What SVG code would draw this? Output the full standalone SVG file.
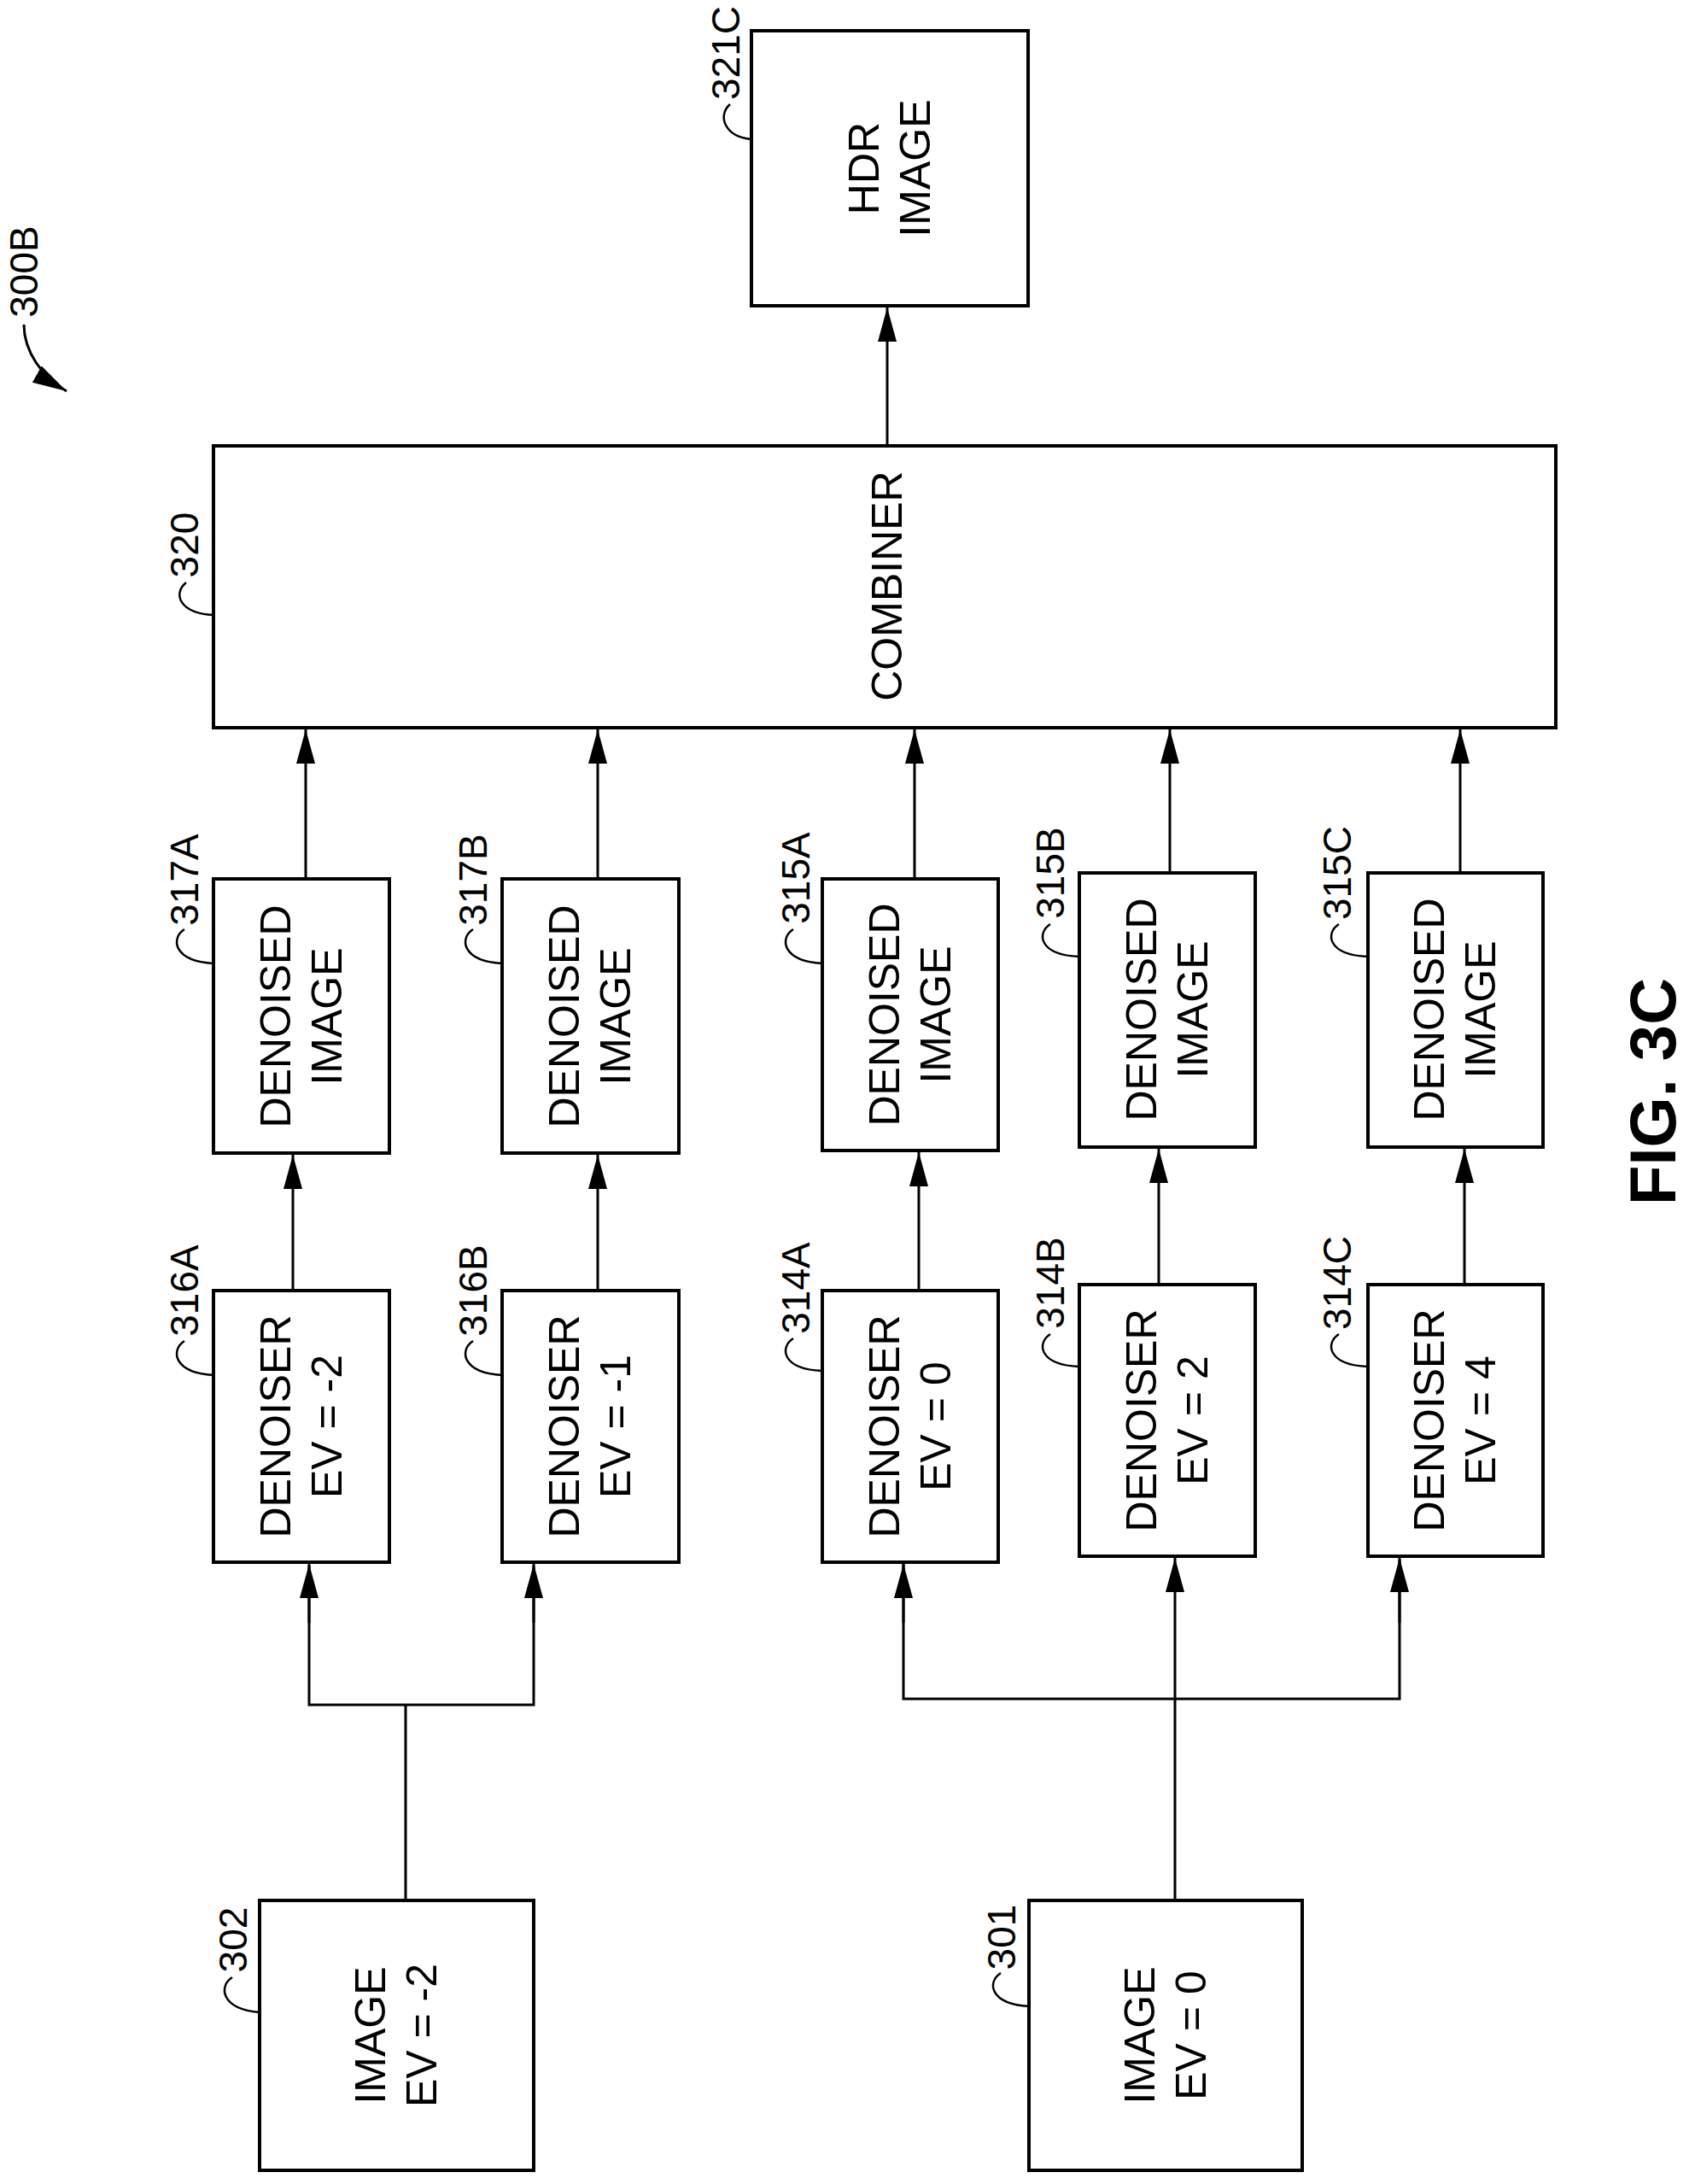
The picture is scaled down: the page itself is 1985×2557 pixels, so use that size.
<svg xmlns="http://www.w3.org/2000/svg" width="1985" height="2557" viewBox="0 0 1985 2557">
<style>
rect{fill:#fff;stroke:#000;stroke-width:4}
.c path,.c line{stroke:#000;stroke-width:3;fill:none}
.ld{stroke:#000;stroke-width:2.5;fill:none}
text{font-family:"Liberation Sans",Arial,sans-serif;font-size:50px;fill:#000;text-anchor:middle}
.lb{font-size:46px}
</style>
<defs>
<marker id="b" markerWidth="40" markerHeight="24" refX="40" refY="12" orient="auto" markerUnits="userSpaceOnUse"><path d="M0 1L40 12L0 23z" fill="#000"/></marker></defs>
<g class="c">
<line x1="1039" y1="521" x2="1039" y2="360" marker-end="url(#b)"/>
<line x1="358" y1="1029" x2="358" y2="854" marker-end="url(#b)"/>
<line x1="700" y1="1029" x2="700" y2="854" marker-end="url(#b)"/>
<line x1="1071" y1="1029" x2="1071" y2="854" marker-end="url(#b)"/>
<line x1="1370" y1="1022" x2="1370" y2="854" marker-end="url(#b)"/>
<line x1="1710" y1="1022" x2="1710" y2="854" marker-end="url(#b)"/>
<line x1="343" y1="1511" x2="343" y2="1352" marker-end="url(#b)"/>
<line x1="700" y1="1511" x2="700" y2="1352" marker-end="url(#b)"/>
<line x1="1076" y1="1511" x2="1076" y2="1349" marker-end="url(#b)"/>
<line x1="1357" y1="1504" x2="1357" y2="1345" marker-end="url(#b)"/>
<line x1="1715" y1="1504" x2="1715" y2="1345" marker-end="url(#b)"/>
<path d="M475 2225V1996M362 1833V1996H625V1833"/>
<line x1="362" y1="1900" x2="362" y2="1831" marker-end="url(#b)"/>
<line x1="625" y1="1900" x2="625" y2="1831" marker-end="url(#b)"/>
<path d="M1058 1826V1989H1639V1826"/>
<line x1="1058" y1="1900" x2="1058" y2="1831" marker-end="url(#b)"/>
<line x1="1639" y1="1900" x2="1639" y2="1824" marker-end="url(#b)"/>
<line x1="1376" y1="2225" x2="1376" y2="1824" marker-end="url(#b)"/>
<path d="M28 380C28 412 50 442 78 458" marker-end="url(#b)"/>
</g>
<g id="n321C"><rect x="880" y="36" width="324" height="322"/><text transform="translate(1042 197) rotate(-90)"><tspan x="0" y="-13">HDR</tspan><tspan x="0" y="47">IMAGE</tspan></text><text class="lb" transform="translate(866 62) rotate(-90)">321C</text><path class="ld" d="M855 122C840 135 848 160 880 163"/></g>
<g id="n320"><rect x="250" y="522" width="1572" height="330"/><text transform="translate(1056 686) rotate(-90)">COMBINER</text><text class="lb" transform="translate(232 638) rotate(-90)">320</text><path class="ld" d="M218 682C202 695 210 718 250 720"/></g>
<text class="lb" transform="translate(44 318) rotate(-90)">300B</text>
<g id="n317A"><rect x="250" y="1029" width="206" height="321"/><text transform="translate(353 1190) rotate(-90)"><tspan x="0" y="-13">DENOISED</tspan><tspan x="0" y="47">IMAGE</tspan></text><text class="lb" transform="translate(232 1030) rotate(-90)">317A</text><path class="ld" d="M216 1088C200 1098 202 1125 250 1128"/></g>
<g id="n317B"><rect x="588" y="1029" width="207" height="321"/><text transform="translate(691 1190) rotate(-90)"><tspan x="0" y="-13">DENOISED</tspan><tspan x="0" y="47">IMAGE</tspan></text><text class="lb" transform="translate(570 1030) rotate(-90)">317B</text><path class="ld" d="M554 1088C538 1098 540 1125 588 1128"/></g>
<g id="n315A"><rect x="963" y="1029" width="206" height="318"/><text transform="translate(1066 1188) rotate(-90)"><tspan x="0" y="-13">DENOISED</tspan><tspan x="0" y="47">IMAGE</tspan></text><text class="lb" transform="translate(948 1028) rotate(-90)">315A</text><path class="ld" d="M929 1088C913 1098 915 1125 963 1128"/></g>
<g id="n315B"><rect x="1264" y="1022" width="206" height="321"/><text transform="translate(1367 1182) rotate(-90)"><tspan x="0" y="-13">DENOISED</tspan><tspan x="0" y="47">IMAGE</tspan></text><text class="lb" transform="translate(1246 1022) rotate(-90)">315B</text><path class="ld" d="M1230 1082C1214 1092 1216 1118 1264 1120"/></g>
<g id="n315C"><rect x="1602" y="1022" width="205" height="321"/><text transform="translate(1704 1182) rotate(-90)"><tspan x="0" y="-13">DENOISED</tspan><tspan x="0" y="47">IMAGE</tspan></text><text class="lb" transform="translate(1582 1022) rotate(-90)">315C</text><path class="ld" d="M1568 1082C1552 1092 1554 1118 1602 1120"/></g>
<g id="n316A"><rect x="250" y="1511" width="206" height="318"/><text transform="translate(353 1670) rotate(-90)"><tspan x="0" y="-13">DENOISER</tspan><tspan x="0" y="47">EV = -2</tspan></text><text class="lb" transform="translate(232 1511) rotate(-90)">316A</text><path class="ld" d="M216 1570C200 1580 202 1607 250 1610"/></g>
<g id="n316B"><rect x="588" y="1511" width="207" height="318"/><text transform="translate(691 1670) rotate(-90)"><tspan x="0" y="-13">DENOISER</tspan><tspan x="0" y="47">EV = -1</tspan></text><text class="lb" transform="translate(570 1511) rotate(-90)">316B</text><path class="ld" d="M554 1570C538 1580 540 1607 588 1610"/></g>
<g id="n314A"><rect x="963" y="1511" width="206" height="318"/><text transform="translate(1066 1670) rotate(-90)"><tspan x="0" y="-13">DENOISER</tspan><tspan x="0" y="47">EV = 0</tspan></text><text class="lb" transform="translate(948 1508) rotate(-90)">314A</text><path class="ld" d="M929 1567C913 1577 915 1603 963 1605"/></g>
<g id="n314B"><rect x="1264" y="1504" width="206" height="318"/><text transform="translate(1367 1663) rotate(-90)"><tspan x="0" y="-13">DENOISER</tspan><tspan x="0" y="47">EV = 2</tspan></text><text class="lb" transform="translate(1246 1502) rotate(-90)">314B</text><path class="ld" d="M1230 1562C1214 1572 1216 1598 1264 1600"/></g>
<g id="n314C"><rect x="1602" y="1504" width="205" height="318"/><text transform="translate(1704 1663) rotate(-90)"><tspan x="0" y="-13">DENOISER</tspan><tspan x="0" y="47">EV = 4</tspan></text><text class="lb" transform="translate(1582 1502) rotate(-90)">314C</text><path class="ld" d="M1568 1562C1552 1572 1554 1598 1602 1600"/></g>
<g id="n302"><rect x="304" y="2225" width="321" height="316"/><text transform="translate(464 2383) rotate(-90)"><tspan x="0" y="-13">IMAGE</tspan><tspan x="0" y="47">EV = -2</tspan></text><text class="lb" transform="translate(289 2271) rotate(-90)">302</text><path class="ld" d="M272 2315C256 2325 258 2352 304 2356"/></g>
<g id="n301"><rect x="1205" y="2225" width="320" height="316"/><text transform="translate(1365 2383) rotate(-90)"><tspan x="0" y="-13">IMAGE</tspan><tspan x="0" y="47">EV = 0</tspan></text><text class="lb" transform="translate(1189 2268) rotate(-90)">301</text><path class="ld" d="M1172 2310C1156 2320 1158 2346 1205 2349"/></g>
<text transform="translate(1962 1278) rotate(-90)" style="font-size:76px;font-weight:bold">FIG. 3C</text>
</svg>
